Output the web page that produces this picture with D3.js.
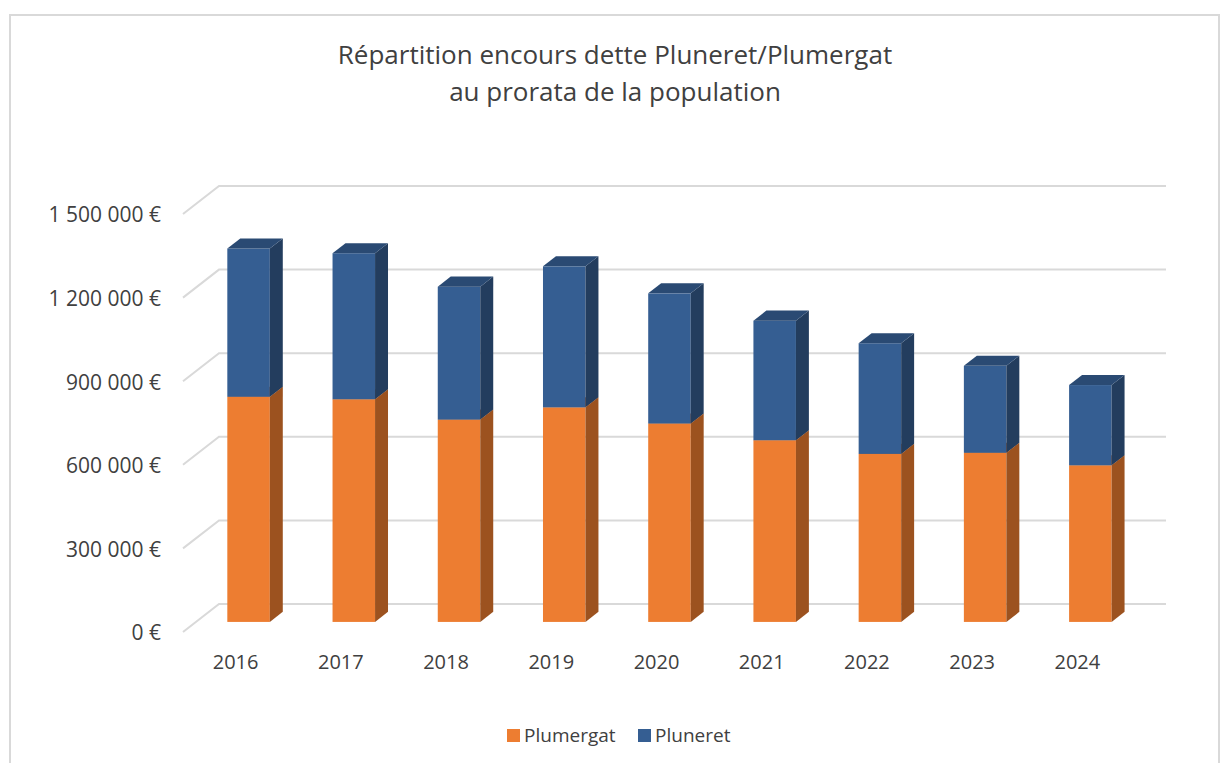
<!DOCTYPE html>
<html>
<head>
<meta charset="utf-8">
<script src="https://cdn.jsdelivr.net/npm/d3@7"></script>
<style>
  body { margin: 0; background: #fff; }
  text { font-family: "Open Sans", sans-serif; fill: #404040; }
</style>
</head>
<body>
<div class="chart"></div>
<script>
var years = ["2016", "2017", "2018", "2019", "2020", "2021", "2022", "2023", "2024"];
var plumergat = [808000, 799000, 726000, 770000, 712000, 652000, 603000, 607000, 562000];
var pluneret = [532000, 524000, 477000, 506000, 467000, 429000, 397000, 312000, 288000];
var seriesNames = ["Plumergat", "Pluneret"];
var yTicks = [0, 300000, 600000, 900000, 1200000, 1500000];
var titleLines = ["Répartition encours dette Pluneret/Plumergat", "au prorata de la population"];

var width = 1223, height = 763;
var depth = { x: 36, y: -28 };      // floor depth, front -> back wall
var barDepth = [0.36, 0.72];        // bars sit in the middle of the floor

var front = { left: 183, right: 1130, zero: 632, top: 214 };

var colors = {
    Plumergat: { front: "#ED7D31", side: "#9C521F", top: "#C76A2A" },
    Pluneret: { front: "#355E92", side: "#233D5E", top: "#2A4A73" }
};

var svg = d3.select(".chart")
    .append("svg")
    .attr("width", width)
    .attr("height", height);

// chart frame
svg.append("rect")
    .attr("x", 10).attr("y", 15)
    .attr("width", 1209).attr("height", 760)
    .attr("fill", "none")
    .attr("stroke", "#D9D9D9")
    .attr("stroke-width", 2);

var x = d3.scaleBand()
    .domain(years)
    .range([front.left, front.right])
    .paddingInner(0.596)
    .paddingOuter(0.298);

var y = d3.scaleLinear()
    .domain([0, 1500000])
    .range([front.zero, front.top]);

// gridlines : side wall diagonal + back wall line
var grid = svg.append("g").attr("class", "grid");
yTicks.forEach(function (t) {
    var yy = y(t);
    grid.append("path")
        .attr("d", "M" + front.left + "," + yy +
            "L" + (front.left + depth.x) + "," + (yy + depth.y) +
            "L" + (front.right + depth.x) + "," + (yy + depth.y))
        .attr("fill", "none")
        .attr("stroke", "#D9D9D9")
        .attr("stroke-width", 2);
});

// y labels
var fmt = function (v) {
    return d3.format(",")(v).replace(/,/g, " ") + " €";
};
svg.append("g").selectAll("text")
    .data(yTicks)
    .enter().append("text")
    .attr("x", 161)
    .attr("y", function (d) { return y(d) + 1; })
    .attr("dy", "0.35em")
    .attr("text-anchor", "end")
    .style("font-size", "21px")
    .text(fmt);

// x labels
svg.append("g").selectAll("text")
    .data(years)
    .enter().append("text")
    .attr("x", function (d) { return x(d) + x.bandwidth() / 2; })
    .attr("y", 662)
    .attr("dy", "0.35em")
    .attr("text-anchor", "middle")
    .style("font-size", "20px")
    .text(function (d) { return d; });

// stacked 3d bars
var table = years.map(function (yr, i) {
    return { year: yr, Plumergat: plumergat[i], Pluneret: pluneret[i] };
});
var stack = d3.stack().keys(seriesNames)(table);

var d0x = depth.x * barDepth[0], d0y = depth.y * barDepth[0];
var ddx = depth.x * (barDepth[1] - barDepth[0]), ddy = depth.y * (barDepth[1] - barDepth[0]);

var bars = svg.append("g").attr("class", "bars");
table.forEach(function (row, i) {
    stack.forEach(function (layer) {
        var seg = layer[i];
        var c = colors[layer.key];
        var x0 = x(row.year) + d0x, x1 = x0 + x.bandwidth();
        var yb = y(seg[0]) + d0y, yt = y(seg[1]) + d0y;
        var g = bars.append("g");
        // front face
        g.append("rect")
            .attr("x", x0).attr("y", yt)
            .attr("width", x1 - x0).attr("height", yb - yt)
            .attr("fill", c.front);
        // side face
        g.append("path")
            .attr("d", "M" + x1 + "," + yb + "L" + (x1 + ddx) + "," + (yb + ddy) +
                "L" + (x1 + ddx) + "," + (yt + ddy) + "L" + x1 + "," + yt + "Z")
            .attr("fill", c.side);
        // top face
        g.append("path")
            .attr("d", "M" + x0 + "," + yt + "L" + x1 + "," + yt +
                "L" + (x1 + ddx) + "," + (yt + ddy) + "L" + (x0 + ddx) + "," + (yt + ddy) + "Z")
            .attr("fill", c.top);
    });
});

// title
svg.append("g").selectAll("text")
    .data(titleLines)
    .enter().append("text")
    .attr("x", 615)
    .attr("y", function (d, i) { return 64 + i * 37; })
    .attr("text-anchor", "middle")
    .style("font-size", "26px")
    .text(function (d) { return d; });

// legend
var legend = svg.append("g").attr("class", "legend");
var legendX = [507, 638];
seriesNames.forEach(function (name, i) {
    legend.append("rect")
        .attr("x", legendX[i]).attr("y", 729)
        .attr("width", 13).attr("height", 13)
        .attr("fill", colors[name].front);
    legend.append("text")
        .attr("x", legendX[i] + 17).attr("y", 735.5)
        .attr("dy", "0.35em")
        .style("font-size", "19px")
        .text(name);
});
</script>
</body>
</html>
